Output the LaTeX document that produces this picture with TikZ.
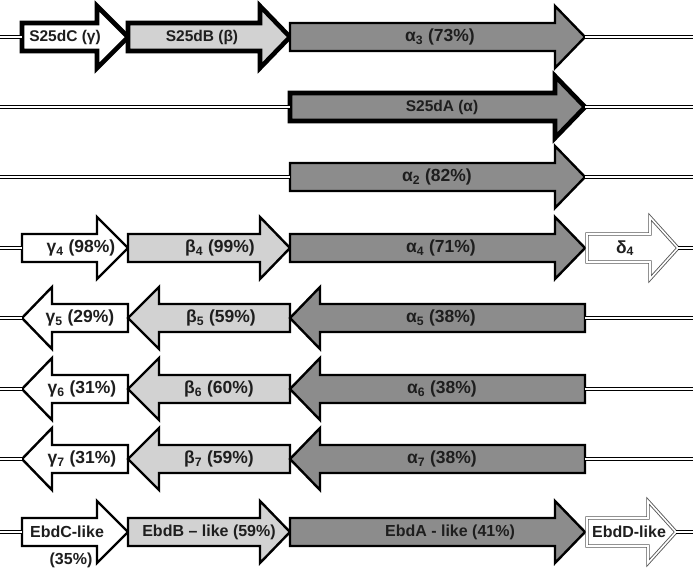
\documentclass[tikz,border=0pt]{standalone}
\usepackage{fontspec}
\setmainfont{Liberation Sans}
\definecolor{agray}{RGB}{140,140,140}
\definecolor{bgray}{RGB}{210,210,210}
\definecolor{txt}{RGB}{30,30,30}
\tikzset{
  gene/.style={draw=black, line width=2.4pt, line join=miter},
  thick gene/.style={draw=black, line width=4.6pt, line join=miter},
  dgene/.style={draw=black!65, double=white, double distance=1.6pt, line width=0.9pt, line join=miter},
  afill/.style={fill=agray}, bfill/.style={fill=bgray}, cfill/.style={fill=white},
  lbl/.style={text=txt, font=\bfseries\fontsize{16}{18}\selectfont, inner sep=0pt},
  glbl/.style={lbl, font=\bfseries\fontsize{17.5}{19}\selectfont},
  slbl/.style={lbl, font=\bfseries\fontsize{15.5}{18}\selectfont},
  dna/.style={draw=black, double=white, double distance=2pt, line width=1.2pt}
}
% #1 name, #2 tail x, #3 head base x, #4 tip x, #5 y, #6 style, #7 label x, #8 label style, #9 label
\newcommand\GeneArrow[9]{%
  \draw[#6] (#2,#5-14) -- (#3,#5-14) -- (#3,#5-31) -- (#4,#5) -- (#3,#5+31) -- (#3,#5+14) -- (#2,#5+14) -- cycle;
  \coordinate (#1-t) at (#2,#5);
  \coordinate (#1-p) at (#4,#5);
  \node[#8] (#1) at (#7,#5) {#9};
}
\newcommand\sub[1]{\textsubscript{#1}}
\begin{document}
\begin{tikzpicture}[x=1pt,y=-1pt]
\useasboundingbox (0,0) rectangle (693,568);
\fill[white] (0,0) rectangle (693,568);
% ---------- coordinates of chromosome ends
\coordinate (L1) at (0,37); \coordinate (R1) at (693,37);
\coordinate (L2) at (0,107); \coordinate (R2) at (693,107);
\coordinate (L3) at (0,177); \coordinate (R3) at (693,177);
\coordinate (L4) at (0,248); \coordinate (R4) at (693,248);
\coordinate (L5) at (0,318); \coordinate (R5) at (693,318);
\coordinate (L6) at (0,389); \coordinate (R6) at (693,389);
\coordinate (L7) at (0,459); \coordinate (R7) at (693,459);
\coordinate (L8) at (0,532); \coordinate (R8) at (693,532);
% ---------- row 1
\GeneArrow{c1}{22}{97}{128}{37}{thick gene,cfill}{65}{slbl}{S25dC (γ)}
\GeneArrow{b1}{128}{260}{290}{37}{thick gene,bfill}{202}{slbl}{S25dB (β)}
\GeneArrow{a1}{290}{555}{585}{37}{gene,afill}{440}{glbl}{α\sub{3} (73\%)}
\draw[dna] (L1) -- (c1-t);
\draw[dna] (a1-p) -- (R1);
% ---------- row 2
\GeneArrow{a2}{290}{555}{585}{107}{thick gene,afill}{442}{slbl}{S25dA (α)}
\draw[dna] (L2) -- (a2-t);
\draw[dna] (a2-p) -- (R2);
% ---------- row 3
\GeneArrow{a3}{290}{555}{585}{177}{gene,afill}{437}{glbl}{α\sub{2} (82\%)}
\draw[dna] (L3) -- (a3-t);
\draw[dna] (a3-p) -- (R3);
% ---------- row 4
\GeneArrow{c4}{22}{97}{128}{248}{gene,cfill}{81}{glbl}{γ\sub{4} (98\%)}
\GeneArrow{b4}{128}{260}{290}{248}{gene,bfill}{220}{glbl}{β\sub{4} (99\%)}
\GeneArrow{a4}{290}{555}{585}{248}{gene,afill}{441}{glbl}{α\sub{4} (71\%)}
\GeneArrow{d4}{587}{650}{678}{248}{dgene,cfill}{625}{glbl}{δ\sub{4}}
\draw[dna] (L4) -- (c4-t);
\draw[dna] (d4-p) -- (R4);
% ---------- rows 5-7 (leftward)
\GeneArrow{c5}{128}{52}{22}{318}{gene,cfill}{80}{glbl}{γ\sub{5} (29\%)}
\GeneArrow{b5}{290}{159}{128}{318}{gene,bfill}{221}{glbl}{β\sub{5} (59\%)}
\GeneArrow{a5}{585}{320}{290}{318}{gene,afill}{441}{glbl}{α\sub{5} (38\%)}
\draw[dna] (L5) -- (c5-p);
\draw[dna] (a5-t) -- (R5);
\GeneArrow{c6}{128}{52}{22}{389}{gene,cfill}{82}{glbl}{γ\sub{6} (31\%)}
\GeneArrow{b6}{290}{159}{128}{389}{gene,bfill}{219}{glbl}{β\sub{6} (60\%)}
\GeneArrow{a6}{585}{320}{290}{389}{gene,afill}{442}{glbl}{α\sub{6} (38\%)}
\draw[dna] (L6) -- (c6-p);
\draw[dna] (a6-t) -- (R6);
\GeneArrow{c7}{128}{52}{22}{459}{gene,cfill}{82}{glbl}{γ\sub{7} (31\%)}
\GeneArrow{b7}{290}{159}{128}{459}{gene,bfill}{219}{glbl}{β\sub{7} (59\%)}
\GeneArrow{a7}{585}{320}{290}{459}{gene,afill}{442}{glbl}{α\sub{7} (38\%)}
\draw[dna] (L7) -- (c7-p);
\draw[dna] (a7-t) -- (R7);
% ---------- row 8
\GeneArrow{c8}{22}{97}{128}{532}{gene,cfill}{67}{lbl}{EbdC-like}
\node[lbl] (c8b) at (71,560) {(35\%)};
\GeneArrow{b8}{128}{260}{290}{532}{gene,bfill}{209}{lbl}{EbdB – like (59\%)}
\GeneArrow{a8}{290}{555}{585}{532}{gene,afill}{450}{lbl}{EbdA - like (41\%)}
\GeneArrow{d8}{587}{648}{676}{532}{dgene,cfill}{629}{lbl}{EbdD-like}
\draw[dna] (L8) -- (c8-t);
\draw[dna] (d8-p) -- (R8);
\end{tikzpicture}
\end{document}
